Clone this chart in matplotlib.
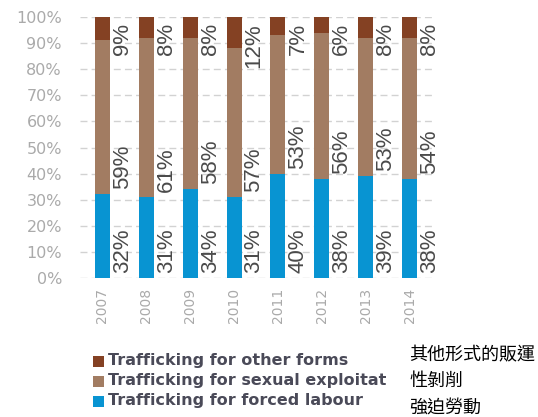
import matplotlib
matplotlib.use("Agg")
import matplotlib.pyplot as plt
from matplotlib.patches import Rectangle
from matplotlib.transforms import offset_copy
import numpy as np

years = ["2007", "2008", "2009", "2010", "2011", "2012", "2013", "2014"]
forced = [32, 31, 34, 31, 40, 38, 39, 38]
sexual = [59, 61, 58, 57, 53, 56, 53, 54]
other = [9, 8, 8, 12, 7, 6, 8, 8]
legend_labels = ["Trafficking for other forms",
                 "Trafficking for sexual exploitat",
                 "Trafficking for forced labour"]
chinese_labels = ["其他形式的販運", "性剝削", "強迫勞動"]
yticks = [0, 10, 20, 30, 40, 50, 60, 70, 80, 90, 100]

c_forced = "#0894d2"
c_sexual = "#a27c62"
c_other = "#844123"
lab_color = "#4a4a4a"
tick_color = "#aaaaaa"

W, H = 538, 417
fig = plt.figure(figsize=(W / 100, H / 100), dpi=100)
ax = fig.add_axes([80 / W, (H - 278) / H, (432 - 80) / W, (278 - 17) / H])

x = np.arange(len(years))
bw = 0.34
forced_a = np.array(forced)
sexual_a = np.array(sexual)
other_a = np.array(other)
ax.bar(x, forced_a, bw, color=c_forced, zorder=2)
ax.bar(x, sexual_a, bw, bottom=forced_a, color=c_sexual, zorder=2)
ax.bar(x, other_a, bw, bottom=forced_a + sexual_a, color=c_other, zorder=2)

ax.set_xlim(-0.51, 7.51)
ax.set_ylim(0, 100)
ax.set_yticks(yticks)
ax.set_yticklabels([f"{v}%" for v in yticks])
ax.set_xticks(x)
ax.set_xticklabels(years, rotation=90)
ax.tick_params(axis="y", length=0, pad=13, labelsize=11.5, labelcolor=tick_color)
ax.tick_params(axis="x", length=0, pad=7, labelsize=10, labelcolor=tick_color)
for s in ax.spines.values():
    s.set_visible(False)
ax.yaxis.grid(True, linestyle=(0, (5, 3)), color="#d2d2d2", linewidth=1, zorder=0)
ax.set_axisbelow(True)

lab_font = dict(family=["Liberation Sans", "DejaVu Sans"], fontsize=16,
                color=lab_color, rotation=90, ha="left")
tr_up = offset_copy(ax.transData, fig=fig, x=2, y=5, units="dots")
tr_dn = offset_copy(ax.transData, fig=fig, x=2, y=-6, units="dots")
for i in range(len(years)):
    xr = x[i] + bw / 2
    ax.text(xr, 0, f"{forced[i]}%", va="bottom", transform=tr_up, **lab_font)
    ax.text(xr, forced[i], f"{sexual[i]}%", va="bottom", transform=tr_up, **lab_font)
    ax.text(xr, 100, f"{other[i]}%", va="top", transform=tr_dn, **lab_font)

# legend
rows_y = [361, 381, 401]
cols = [c_other, c_sexual, c_forced]
for yy, col, lab in zip(rows_y, cols, legend_labels):
    fig.add_artist(Rectangle((93 / W, (H - yy - 5.5) / H), 11 / W, 11 / H,
                             transform=fig.transFigure, color=col, lw=0))
    fig.text(108 / W, (H - yy) / H, lab, fontsize=11.5, fontweight="bold",
             color="#4a4a58", va="center", ha="left", family="DejaVu Sans")

cn_y = [355, 381, 408]
for yy, lab in zip(cn_y, chinese_labels):
    fig.text(409 / W, (H - yy) / H, lab, fontsize=13, color="black",
             va="center", ha="left", family=["Noto Sans CJK TC", "DejaVu Sans"])

fig.savefig("out.png", dpi=100)
